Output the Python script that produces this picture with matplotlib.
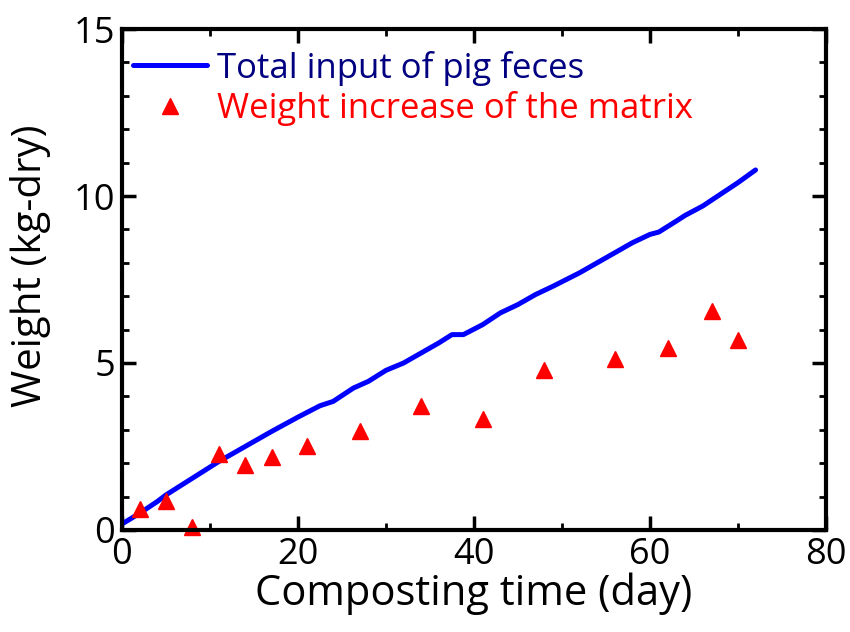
import numpy as np
import matplotlib.pyplot as plt

plt.rcParams['font.family'] = ['Open Sans', 'DejaVu Sans']

# cumulative pig feces input (kg-dry)
input_days = [0, 2, 4, 5, 8, 11, 14, 17, 20, 22.5, 24, 26.3, 28, 30, 32, 34, 36,
              37.5, 38.8, 41, 43, 45, 47, 49, 50.5, 52, 54, 56, 58, 60, 61, 63,
              64, 66, 68, 70, 72]
input_weight = [0.18, 0.5, 0.85, 1.05, 1.55, 2.05, 2.5, 2.95, 3.38, 3.72, 3.85,
                4.25, 4.45, 4.78, 5.0, 5.3, 5.6, 5.85, 5.85, 6.15, 6.5, 6.75,
                7.05, 7.3, 7.5, 7.7, 8.0, 8.3, 8.6, 8.85, 8.92, 9.25, 9.42,
                9.7, 10.05, 10.4, 10.78]

# measured weight increase of the matrix
matrix_days = [2, 5, 8, 11, 14, 17, 21, 27, 34, 41, 48, 56, 62, 67, 70]
matrix_weight = [0.63, 0.87, 0.08, 2.28, 1.95, 2.19, 2.52, 2.97, 3.72, 3.32,
                 4.8, 5.12, 5.45, 6.56, 5.69]

fig = plt.figure(figsize=(8.5, 6.32), dpi=100)
ax = fig.add_axes([0.1435, 0.1614, 0.8282, 0.7927])

ax.plot(input_days, input_weight, color='#0000ff', linewidth=3.6,
        solid_capstyle='round', label='Total input of pig feces')
ax.plot(matrix_days, matrix_weight, linestyle='none', marker='^',
        markersize=12, color='#ff0000', clip_on=False,
        label='Weight increase of the matrix')

ax.set_xlim(0, 80)
ax.set_ylim(0, 15)
ax.set_xticks([0, 20, 40, 60, 80])
ax.set_xticks([10, 30, 50, 70], minor=True)
ax.set_yticks([0, 5, 10, 15])
ax.set_yticks([1, 2, 3, 4, 6, 7, 8, 9, 11, 12, 13, 14], minor=True)

for side in ax.spines.values():
    side.set_linewidth(3)
ax.tick_params(which='both', direction='in', top=True, right=True,
               labelsize=26, pad=5)
ax.tick_params(which='major', length=10, width=2.5)
ax.tick_params(which='minor', length=5, width=2)

ax.set_xlabel('Composting time (day)', fontsize=30, labelpad=0)
ax.set_ylabel('Weight (kg-dry)', fontsize=29)
ax.yaxis.set_label_coords(-0.101, 0.527)

leg = ax.legend(loc='upper left', bbox_to_anchor=(0.0156, 0.957), frameon=False,
                fontsize=25, handlelength=2.13, handletextpad=0.29,
                labelspacing=0.15, borderaxespad=0, borderpad=0)
leg.get_texts()[0].set_color('#000080')
leg.get_texts()[1].set_color('#ff0000')

plt.savefig('out.png', dpi=100)
